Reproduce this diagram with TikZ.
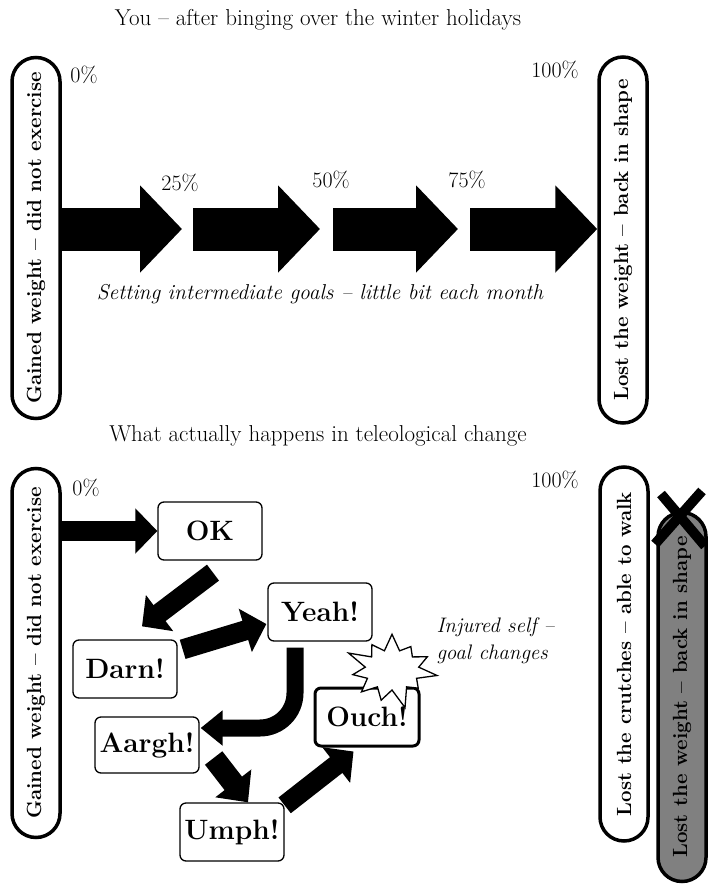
\documentclass[tikz,border=0pt]{standalone}
\usetikzlibrary{shapes.misc,shapes.symbols,arrows.meta,calc,positioning}

\tikzset{
  pill/.style={draw, rounded rectangle, line width=3.5pt, rotate=90, minimum height=48pt, inner sep=2pt, font=\bfseries\fontsize{20.5}{24}\selectfont},
  stepbox/.style={draw, rounded corners=6pt, line width=1.3pt, fill=white, minimum width=104pt, minimum height=58pt, inner sep=0pt, font=\bfseries\fontsize{28}{32}\selectfont},
  bigarrow/.style={line width=43pt, -{Triangle[width=85pt,length=42pt]}},
  midarrow/.style={line width=20pt, -{Triangle[width=44pt,length=22pt]}}
}

\begin{document}
\begin{tikzpicture}[x=1pt, y=1pt, font=\fontsize{22}{26}\selectfont]
\useasboundingbox (0,0) rectangle (708,-886);

% the plan
\node (titletop)[font=\fontsize{23}{27}\selectfont] at (318,-20) {You -- after binging over the winter holidays};
\node (gainedtop)[pill, minimum width=365pt] at (36,-238) {Gained weight -- did not exercise};
\node (losttop)[pill, minimum width=370pt] at (623,-240) {Lost the weight -- back in shape};
\node (zerotop) at (84,-75) {0\%};
\node (fulltop) at (555,-70) {100\%};

\coordinate (tip25) at (182,-229);
\coordinate (tail50) at (193,-229);
\coordinate (tip50) at (320,-229);
\coordinate (tail75) at (333,-229);
\coordinate (tip75) at (458,-229);
\coordinate (tail100) at (470,-229);

\node (pct25) at (180,-183) {25\%};
\node (pct50) at (331,-180) {50\%};
\node (pct75) at (467,-180) {75\%};

\draw [bigarrow](gainedtop.south |- tip25)--(tip25);
\draw [bigarrow](tail50)--(tip50);
\draw [bigarrow](tail75)--(tip75);
\draw [bigarrow](tail100)--(losttop.north |- tail100);

\node (goals)[font=\itshape\fontsize{21.5}{26}\selectfont] at (320,-294) {Setting intermediate goals -- little bit each month};

% what really happens
\node (titlebot)[font=\fontsize{23}{27}\selectfont] at (318,-436) {What actually happens in teleological change};
\node (gainedbot)[pill, minimum width=373pt] at (36,-653) {Gained weight -- did not exercise};
\node (lostcrutch)[pill, minimum width=378pt] at (624,-654) {Lost the crutches -- able to walk};
\node (lostweight)[pill, fill=black!50, minimum width=373pt] at (682,-697) {Lost the weight -- back in shape};
\node (zerobot) at (86,-488) {0\%};
\node (fullbot) at (555,-480) {100\%};

\coordinate (crossa) at (661,-494);
\coordinate (crossb) at (705,-546);
\coordinate (crossc) at (702,-491);
\coordinate (crossd) at (655,-544);
\draw [line width=10pt](crossa)--(crossb);
\draw [line width=10pt](crossc)--(crossd);

\node (ok)[stepbox] at (210,-531) {OK};
\node (yeah)[stepbox] at (320,-612) {Yeah!};
\node (darn)[stepbox] at (125,-669) {Darn!};
\node (aargh)[stepbox, minimum height=56pt] at (147,-745) {Aargh!};
\node (umph)[stepbox] at (232,-832) {Umph!};
\node (ouch)[stepbox, line width=3pt] at (367,-717) {Ouch!};
\node (burst)[starburst, draw, fill=white, line width=1.3pt, minimum width=98pt, minimum height=84pt, starburst points=11, starburst point height=22pt] at (392,-670) {};
\node (injured)[anchor=west, align=left, font=\itshape\fontsize{21}{27}\selectfont] at (433,-641) {Injured self --\\goal changes};

\draw [midarrow](gainedbot.south |- ok.west)--(ok.west);
\draw [midarrow]($(ok.south)+(3,-12)$)--($(darn.north)+(17,13)$);
\draw [midarrow]($(darn.north east)+(5,-10)$)--($(yeah.west)+(-1,-12)$);
\draw [line width=17pt, rounded corners=35pt, -{Triangle[width=34pt,length=22pt]}]($(yeah.south)+(-25,-6)$) |- ($(aargh.east)+(1,17)$);
\draw [line width=22pt, -{Triangle[width=44pt,length=24pt]}]($(aargh.east)+(14,-13)$)--($(umph.north)+(16,0)$);
\draw [midarrow]($(umph.north east)+(0,-3)$)--($(ouch.south west)+(40,-4)$);
\end{tikzpicture}
\end{document}
